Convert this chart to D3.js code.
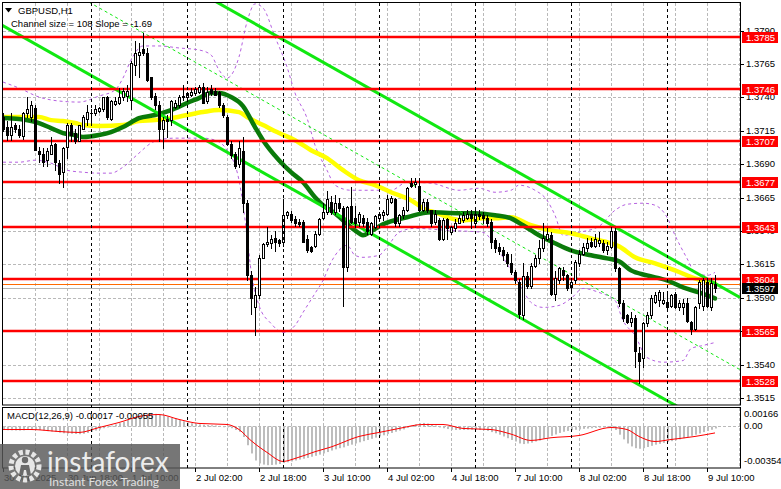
<!DOCTYPE html>
<html><head><meta charset="utf-8">
<script src="https://cdn.jsdelivr.net/npm/d3@7"></script>
<style>html,body{margin:0;padding:0;background:#fff;}svg{display:block;}</style>
</head><body>
<svg id="c" width="781" height="489"></svg>
<script>
// ---------- DATA ----------
const symbolTitle = "GBPUSD,H1";
const channelText = "Channel size = 108 Slope = -1.69";
const macdText = "MACD(12,26,9) -0.00017 -0.00055";

// hourly candles [open, high, low, close], bar 0 = 30 Jun 02:00
const ohlc = [
[1.3725,1.3728,1.3715,1.3716],[1.3718,1.3722,1.3708,1.3712],[1.3712,1.3728,1.3708,1.3718],[1.3719,1.3721,1.3714,1.3716],
[1.3716,1.3719,1.3710,1.3712],[1.3711,1.3729,1.3709,1.3728],[1.3728,1.3740,1.3725,1.3731],[1.3725,1.3737,1.3722,1.3734],
[1.3732,1.3734,1.3701,1.3701],[1.3700,1.3703,1.3692,1.3698],[1.3698,1.3702,1.3689,1.3692],[1.3693,1.3702,1.3689,1.3700],
[1.3698,1.3710,1.3698,1.3704],[1.3705,1.3706,1.3686,1.3692],[1.3691,1.3693,1.3676,1.3683],[1.3684,1.3703,1.3673,1.3702],
[1.3703,1.3721,1.3695,1.3719],[1.3719,1.3721,1.3707,1.3712],[1.3713,1.3716,1.3706,1.3707],[1.3707,1.3719,1.3707,1.3719],
[1.3716,1.3727,1.3716,1.3725],[1.3724,1.3734,1.3719,1.3729],[1.3728,1.3731,1.3720,1.3728],[1.3728,1.3734,1.3727,1.3731],
[1.3730,1.3733,1.3729,1.3732],[1.3731,1.3740,1.3730,1.3740],[1.3740,1.3741,1.3724,1.3725],[1.3724,1.3738,1.3723,1.3737],
[1.3735,1.3740,1.3734,1.3737],[1.3736,1.3747,1.3735,1.3740],[1.3740,1.3747,1.3738,1.3745],[1.3741,1.3749,1.3737,1.3745],
[1.3738,1.3767,1.3731,1.3766],[1.3764,1.3782,1.3757,1.3773],[1.3772,1.3781,1.3755,1.3774],[1.3776,1.3788,1.3772,1.3773],
[1.3773,1.3777,1.3752,1.3753],[1.3755,1.3755,1.3739,1.3740],[1.3741,1.3743,1.3731,1.3734],[1.3734,1.3737,1.3707,1.3716],
[1.3716,1.3725,1.3702,1.3723],[1.3724,1.3727,1.3710,1.3722],[1.3723,1.3738,1.3719,1.3737],[1.3733,1.3738,1.3732,1.3736],
[1.3734,1.3742,1.3733,1.3740],[1.3740,1.3749,1.3738,1.3741],[1.3740,1.3744,1.3738,1.3743],[1.3742,1.3747,1.3741,1.3744],
[1.3743,1.3748,1.3742,1.3746],[1.3744,1.3749,1.3743,1.3748],[1.3748,1.3751,1.3736,1.3736],[1.3737,1.3748,1.3736,1.3744],
[1.3746,1.3749,1.3742,1.3743],[1.3745,1.3747,1.3742,1.3742],[1.3744,1.3745,1.3733,1.3734],[1.3734,1.3736,1.3725,1.3727],
[1.3725,1.3727,1.3704,1.3705],[1.3705,1.3707,1.3695,1.3697],[1.3698,1.3699,1.3687,1.3689],[1.3690,1.3707,1.3688,1.3702],
[1.3700,1.3710,1.3654,1.3661],[1.3661,1.3663,1.3603,1.3607],[1.3607,1.3610,1.3578,1.3590],[1.3583,1.3598,1.3562,1.3592],
[1.3592,1.3622,1.3590,1.3620],[1.3620,1.3631,1.3620,1.3630],[1.3630,1.3643,1.3629,1.3632],[1.3631,1.3637,1.3627,1.3634],
[1.3635,1.3640,1.3625,1.3632],[1.3633,1.3634,1.3629,1.3631],[1.3632,1.3664,1.3629,1.3652],[1.3652,1.3655,1.3650,1.3654],
[1.3653,1.3655,1.3647,1.3648],[1.3649,1.3651,1.3644,1.3646],[1.3647,1.3649,1.3644,1.3645],[1.3647,1.3648,1.3632,1.3632],
[1.3634,1.3637,1.3624,1.3626],[1.3628,1.3629,1.3624,1.3625],[1.3629,1.3640,1.3628,1.3638],[1.3638,1.3650,1.3637,1.3649],
[1.3650,1.3661,1.3649,1.3654],[1.3654,1.3670,1.3653,1.3664],[1.3662,1.3666,1.3653,1.3654],[1.3654,1.3667,1.3653,1.3661],
[1.3661,1.3665,1.3655,1.3657],[1.3657,1.3659,1.3584,1.3613],[1.3613,1.3659,1.3610,1.3658],[1.3659,1.3673,1.3646,1.3647],
[1.3650,1.3659,1.3643,1.3646],[1.3647,1.3654,1.3644,1.3653],[1.3650,1.3652,1.3644,1.3646],[1.3647,1.3650,1.3638,1.3640],
[1.3638,1.3647,1.3637,1.3646],[1.3643,1.3652,1.3642,1.3651],[1.3650,1.3654,1.3648,1.3653],[1.3652,1.3656,1.3648,1.3654],
[1.3653,1.3667,1.3652,1.3664],[1.3662,1.3666,1.3661,1.3665],[1.3664,1.3665,1.3644,1.3646],[1.3646,1.3653,1.3644,1.3652],
[1.3652,1.3658,1.3650,1.3656],[1.3656,1.3673,1.3655,1.3672],[1.3676,1.3680,1.3673,1.3674],[1.3675,1.3680,1.3673,1.3677],
[1.3674,1.3680,1.3655,1.3656],[1.3656,1.3664,1.3655,1.3662],[1.3662,1.3664,1.3654,1.3656],[1.3656,1.3656,1.3644,1.3646],
[1.3647,1.3656,1.3645,1.3653],[1.3648,1.3650,1.3633,1.3634],[1.3634,1.3650,1.3633,1.3648],[1.3649,1.3650,1.3634,1.3642],
[1.3639,1.3644,1.3638,1.3643],[1.3642,1.3649,1.3640,1.3646],[1.3646,1.3652,1.3646,1.3650],[1.3648,1.3654,1.3647,1.3652],
[1.3650,1.3656,1.3649,1.3653],[1.3653,1.3656,1.3642,1.3650],[1.3646,1.3657,1.3644,1.3653],[1.3653,1.3656,1.3649,1.3651],
[1.3652,1.3654,1.3646,1.3650],[1.3650,1.3652,1.3644,1.3646],[1.3647,1.3649,1.3627,1.3632],[1.3633,1.3635,1.3624,1.3627],
[1.3628,1.3631,1.3623,1.3625],[1.3626,1.3628,1.3618,1.3622],[1.3623,1.3624,1.3614,1.3616],[1.3616,1.3623,1.3608,1.3609],
[1.3609,1.3611,1.3601,1.3603],[1.3602,1.3604,1.3575,1.3578],[1.3577,1.3616,1.3574,1.3606],[1.3606,1.3609,1.3597,1.3599],
[1.3599,1.3616,1.3597,1.3614],[1.3614,1.3622,1.3613,1.3620],[1.3620,1.3633,1.3616,1.3627],[1.3627,1.3646,1.3625,1.3635],
[1.3634,1.3642,1.3633,1.3638],[1.3637,1.3639,1.3592,1.3593],[1.3593,1.3610,1.3588,1.3605],[1.3603,1.3613,1.3601,1.3612],
[1.3611,1.3613,1.3603,1.3607],[1.3607,1.3608,1.3596,1.3597],[1.3598,1.3605,1.3596,1.3602],[1.3603,1.3618,1.3601,1.3617],
[1.3616,1.3626,1.3614,1.3623],[1.3623,1.3631,1.3622,1.3628],[1.3627,1.3635,1.3625,1.3631],[1.3632,1.3635,1.3628,1.3629],
[1.3629,1.3638,1.3628,1.3634],[1.3631,1.3639,1.3629,1.3633],[1.3631,1.3633,1.3624,1.3626],[1.3626,1.3632,1.3623,1.3629],
[1.3628,1.3643,1.3627,1.3640],[1.3640,1.3642,1.3610,1.3612],[1.3612,1.3613,1.3584,1.3586],[1.3586,1.3588,1.3573,1.3575],
[1.3577,1.3578,1.3571,1.3572],[1.3572,1.3579,1.3569,1.3575],[1.3575,1.3577,1.3538,1.3550],[1.3549,1.3553,1.3526,1.3543],
[1.3545,1.3572,1.3538,1.3571],[1.3571,1.3579,1.3569,1.3577],[1.3577,1.3592,1.3575,1.3590],[1.3587,1.3594,1.3586,1.3592],
[1.3588,1.3596,1.3584,1.3594],[1.3586,1.3594,1.3585,1.3588],[1.3587,1.3594,1.3582,1.3583],[1.3584,1.3593,1.3583,1.3592],
[1.3593,1.3594,1.3582,1.3583],[1.3583,1.3588,1.3581,1.3586],[1.3583,1.3589,1.3578,1.3586],[1.3586,1.3590,1.3572,1.3573],
[1.3572,1.3573,1.3563,1.3567],[1.3567,1.3584,1.3566,1.3583],[1.3586,1.3603,1.3582,1.3602],[1.3584,1.3605,1.3581,1.3603],
[1.3602,1.3605,1.3583,1.3584],[1.3583,1.3605,1.3581,1.3601],[1.3600,1.3607,1.3594,1.3597]
];

// moving averages [bar, price]
const maGreen = [[0,1.37245],[4,1.37238],[9,1.37208],[12,1.3717],[15,1.37133],[18,1.37118],[20,1.37103],[24,1.37118],[27,1.3714],[30,1.37178],[34,1.37245],[38,1.37268],[42,1.37305],[46,1.37358],[49,1.37395],[52,1.37433],[54,1.37433],[57,1.37403],[60,1.37335],[63,1.37178],[65,1.3708],[69,1.3693],[72,1.3684],[75,1.36765],[78,1.36653],[80,1.36593],[83,1.36533],[85,1.3648],[88,1.36405],[90,1.36368],[92,1.36398],[95,1.3645],[101,1.36503],[107,1.3654],[114,1.36533],[118,1.36533],[123,1.36518],[127,1.36495],[130,1.36443],[134,1.36368],[138,1.36308],[142,1.36255],[147,1.36218],[151,1.36195],[154,1.36173],[157,1.36105],[161,1.36068],[166,1.3603],[170,1.35978],[174,1.3594],[178,1.35895]];
const maYellow = [[0,1.37253],[4,1.37253],[9,1.37253],[12,1.3723],[15,1.37223],[18,1.37208],[20,1.37193],[24,1.37185],[30,1.37193],[34,1.37223],[38,1.3723],[42,1.37245],[46,1.37268],[50,1.3729],[54,1.37305],[59,1.3729],[61,1.37253],[65,1.37193],[69,1.37133],[73,1.3708],[77,1.37005],[81,1.36945],[85,1.36855],[89,1.3678],[93,1.36743],[97,1.3669],[102,1.3663],[106,1.36555],[108,1.3654],[112,1.36495],[115,1.3648],[120,1.36495],[123,1.36495],[127,1.36503],[132,1.36443],[137,1.36405],[142,1.36383],[147,1.36345],[152,1.36308],[154,1.36285],[158,1.36203],[163,1.36158],[168,1.36105],[173,1.36045],[178,1.36008]];
const bandUpper = [[0,1.37515],[4,1.3747],[9,1.37403],[14,1.37373],[19,1.37365],[24,1.3741],[28,1.37455],[30,1.37545],[32,1.3768],[35,1.37785],[39,1.37785],[44,1.3777],[49,1.37755],[52,1.37718],[54,1.37605],[56,1.37545],[59,1.37703],[61,1.37965],[63,1.381],[65,1.3807],[68,1.37853],[71,1.37628],[73,1.37433],[76,1.37245],[78,1.37043],[81,1.36855],[83,1.36743],[87,1.36705],[92,1.36705],[97,1.36705],[101,1.36765],[107,1.36758],[114,1.36705],[119,1.3672],[123,1.3669],[127,1.36705],[129,1.36743],[133,1.36705],[136,1.3663],[138,1.36518],[140,1.36368],[144,1.3639],[149,1.36435],[153,1.36555],[156,1.3660],[160,1.36608],[163,1.36593],[166,1.36503],[168,1.36368],[171,1.36195],[173,1.3609],[176,1.36068],[178,1.3609]];
const bandLower = [[0,1.36915],[4,1.36915],[8,1.3693],[12,1.36908],[16,1.36855],[20,1.3684],[24,1.36833],[27,1.36833],[30,1.36878],[34,1.36983],[37,1.37058],[40,1.37088],[43,1.37095],[50,1.37095],[53,1.3708],[56,1.37005],[59,1.3678],[61,1.36368],[62,1.36105],[64,1.35843],[67,1.35708],[70,1.3564],[73,1.35693],[75,1.3579],[78,1.35933],[80,1.3603],[82,1.36165],[84,1.36255],[86,1.36293],[88,1.36218],[90,1.36203],[94,1.36218],[96,1.36278],[99,1.3639],[103,1.3642],[111,1.36405],[120,1.3639],[123,1.36293],[127,1.36105],[130,1.35955],[132,1.35865],[135,1.35828],[139,1.35843],[142,1.35895],[145,1.3597],[149,1.3594],[153,1.3588],[155,1.3573],[158,1.35618],[161,1.35453],[165,1.35418],[170,1.3543],[172,1.3552],[175,1.35543],[177,1.35558],[178,1.35565]];

// regression channel: middle line end points [bar, price] and half width
const channelMid = [[-2,1.38510],[184.25,1.35362]];
const channelHalf = 0.0054;

// horizontal levels
const redLevels = [1.3785,1.3746,1.3707,1.3677,1.3643,1.3604,1.3565,1.3528];
const askPrice = 1.3600;
const bidPrice = 1.3597;

// axis ticks (grid levels) and the tick labels that are shown
const yTicks = [1.3790,1.3765,1.3740,1.3715,1.3690,1.3665,1.3640,1.3615,1.3590,1.3565,1.3540,1.3515];
const yTickLabels = ["1.3790","1.3765","1.3740","1.3715","1.3690","1.3665","1.3640","1.3615","1.3590","","1.3540","1.3515"];
const xTickBars = [0,16,32,48,64,80,96,112,128,144,160,176];
const xTickLabels = ["30 Jun 2025","30 Jun 18:00","1 Jul 10:00","2 Jul 02:00","2 Jul 18:00","3 Jul 10:00","4 Jul 02:00","4 Jul 18:00","7 Jul 10:00","8 Jul 02:00","8 Jul 18:00","9 Jul 10:00"];
const daySeparatorBars = [22,46,70,94,118,142,166];
const macdTickValues = [0.00166, 0, -0.00354];
const macdTickLabels = ["0.00166","0.00","-0.00354"];

// MACD histogram (units of 0.00001), one per bar
const macdHist = [-30,-32,-33,-34,-35,-33,-30,-28,-27,-30,
-35,-40,-43,-46,-52,-58,-60,
-62,-64,-66,-62,-55,-45,
-35,-25,-15,-5,
8,18,28,40,
55,68,82,95,104,110,112,108,
100,92,84,75,66,55,45,
35,28,22,18,15,12,10,8,5,2,-5,
-15,-30,-45,
-90,-160,-230,-290,-315,
-325,-330,-328,-325,-320,-312,
-305,-298,-290,-282,-275,-268,-258,-250,-240,-230,
-218,-205,-195,-185,-178,-165,-155,-145,-135,-125,
-115,-105,-95,-85,-75,-65,-55,-45,-35,-25,
-12,5,18,28,30,25,18,8,
-5,-15,-22,-28,-30,-30,-30,-28,-28,-28,-30,-32,
-38,-48,-58,-70,-85,-100,-115,-128,
-145,-150,-145,-138,-128,-120,
-105,-95,-80,-68,-55,-45,-38,
-32,-28,-25,-20,-18,-15,-12,-10,-6,-3,
8,
-30,-70,-110,-145,-170,
-185,-190,-185,-175,-165,
-155,-148,-140,-132,-125,-118,-110,-100,
-90,-80,-70,-60,-48,-38,-28,-17];
// MACD signal line [bar, value in 0.00001]
const macdSignal = [[0,-26],[7,-26],[14,-43],[19,-51],[24,-9],[29,34],[34,85],[39,102],[44,60],[49,26],[56,17],[59,-26],[62,-120],[66,-221],[70,-298],[73,-273],[78,-215],[82,-175],[89,-85],[94,-51],[99,-17],[105,17],[110,17],[115,-17],[122,-26],[127,-65],[132,-119],[137,-96],[144,-77],[152,-9],[156,-26],[159,-85],[163,-128],[167,-111],[173,-85],[178,-55]];

// ---------- DRAW ----------
const FONT = "'Liberation Sans', Arial, sans-serif";
const svg = d3.select('#c');
const x = d3.scaleLinear().domain([0,184.25]).range([3,740]);
const y = d3.scaleLinear().domain([1.3515,1.3765]).range([398,64]);
const ym = d3.scaleLinear().domain([-0.00354,0.00166]).range([468,407]);
const px = v => Math.round(x(v));

const defs = svg.append('defs');
defs.append('clipPath').attr('id','mainClip').append('rect').attr('x',3).attr('y',3).attr('width',737).attr('height',402);
defs.append('clipPath').attr('id','macdClip').append('rect').attr('x',3).attr('y',408).attr('width',737).attr('height',60);

const main = svg.append('g').attr('clip-path','url(#mainClip)');
const macd = svg.append('g').attr('clip-path','url(#macdClip)');

const gridBars = d3.range(8,185,8);
const gridColor = '#b9b9b9';
[main, macd].forEach((g,k) => {
  g.selectAll('line.vg').data(gridBars).enter().append('line').attr('class','vg')
   .attr('x1',d=>px(d)+0.5).attr('x2',d=>px(d)+0.5)
   .attr('y1',k===0?3:408).attr('y2',k===0?405:468)
   .attr('stroke',gridColor).attr('stroke-dasharray','3,2');
});
main.selectAll('line.hg').data(yTicks).enter().append('line')
  .attr('x1',3).attr('x2',740).attr('y1',d=>Math.round(y(d))+0.5).attr('y2',d=>Math.round(y(d))+0.5)
  .attr('stroke',gridColor).attr('stroke-dasharray','3,2');
macd.append('line').attr('x1',3).attr('x2',740).attr('y1',Math.round(ym(0))+0.5).attr('y2',Math.round(ym(0))+0.5)
  .attr('stroke',gridColor).attr('stroke-dasharray','3,2');

svg.selectAll('line.sep').data(daySeparatorBars).enter().append('line')
  .attr('x1',d=>px(d)+0.5).attr('x2',d=>px(d)+0.5).attr('y1',3).attr('y2',468)
  .attr('stroke','#000').attr('stroke-dasharray','3,3');

main.append('line').attr('x1',3).attr('x2',740).attr('y1',Math.round(y(askPrice))+0.5).attr('y2',Math.round(y(askPrice))+0.5).attr('stroke','#ff6a00').attr('stroke-width',1);
main.append('line').attr('x1',3).attr('x2',740).attr('y1',Math.round(y(bidPrice))+0.5).attr('y2',Math.round(y(bidPrice))+0.5).attr('stroke','#b4b4b4').attr('stroke-width',1);

const line = d3.line().x(d=>x(d[0])).y(d=>y(d[1])).curve(d3.curveMonotoneX);
[bandUpper, bandLower].forEach(b => main.append('path').attr('d',line(b)).attr('fill','none')
  .attr('stroke','#b560e0').attr('stroke-width',1).attr('stroke-dasharray','3,3'));

main.append('path').attr('d',line(maYellow)).attr('fill','none').attr('stroke','#ffff00').attr('stroke-width',4.5).attr('stroke-linecap','round');
main.append('path').attr('d',line(maGreen)).attr('fill','none').attr('stroke','#0a7a0a').attr('stroke-width',4.5).attr('stroke-linecap','round');

const straight = d3.line().x(d=>x(d[0])).y(d=>y(d[1]));
main.append('path').attr('d',straight(channelMid.map(d=>[d[0],d[1]+channelHalf]))).attr('stroke','#11e811').attr('stroke-width',3).attr('fill','none');
main.append('path').attr('d',straight(channelMid.map(d=>[d[0],d[1]-channelHalf]))).attr('stroke','#11e811').attr('stroke-width',3).attr('fill','none');
main.append('path').attr('d',straight(channelMid)).attr('stroke','#11e811').attr('stroke-width',1).attr('stroke-dasharray','3,3').attr('fill','none');

main.selectAll('line.lvl').data(redLevels).enter().append('line')
  .attr('x1',3).attr('x2',740).attr('y1',d=>Math.round(y(d))).attr('y2',d=>Math.round(y(d)))
  .attr('stroke','#ff0000').attr('stroke-width',2.5);

const cg = main.append('g');
ohlc.forEach((c,i) => {
  const [o,h,l,cl] = c; const cx = px(i);
  cg.append('line').attr('x1',cx+0.5).attr('x2',cx+0.5).attr('y1',Math.round(y(h))).attr('y2',Math.round(y(l))+1).attr('stroke','#000');
  const top = Math.round(y(Math.max(o,cl))), bot = Math.round(y(Math.min(o,cl)));
  if (bot - top < 1) {
    cg.append('line').attr('x1',cx-1).attr('x2',cx+2).attr('y1',top+0.5).attr('y2',top+0.5).attr('stroke','#000');
  } else {
    cg.append('rect').attr('x',cx-0.5).attr('y',top+0.5).attr('width',2).attr('height',bot-top)
      .attr('fill', cl>=o ? '#fff' : '#000').attr('stroke','#000').attr('stroke-width',1);
  }
});

macd.selectAll('rect.h').data(macdHist).enter().append('rect')
  .attr('x',(d,i)=>px(i)).attr('width',2)
  .attr('y',d=>Math.min(ym(d/1e5),ym(0))).attr('height',d=>Math.max(1,Math.abs(ym(d/1e5)-ym(0))))
  .attr('fill','#bdbdbd');
macd.append('path').attr('d',d3.line().x(d=>x(d[0])).y(d=>ym(d[1]/1e5)).curve(d3.curveMonotoneX)(macdSignal))
  .attr('fill','none').attr('stroke','#ff0000').attr('stroke-width',1);

svg.append('rect').attr('x',2.5).attr('y',2.5).attr('width',738).attr('height',402.5).attr('fill','none').attr('stroke','#000');
svg.append('rect').attr('x',2.5).attr('y',407.5).attr('width',738).attr('height',60.5).attr('fill','none').attr('stroke','#000');

const ax = svg.append('g').attr('font-family',FONT).attr('font-size','9.5px');
yTicks.forEach((t,k) => {
  const yy = Math.round(y(t));
  ax.append('line').attr('x1',741).attr('x2',744).attr('y1',yy+0.5).attr('y2',yy+0.5).attr('stroke','#000');
  if (yTickLabels[k]) ax.append('text').attr('x',746).attr('y',yy).attr('dy','0.36em').attr('fill','#000').text(yTickLabels[k]);
});
redLevels.forEach(p => {
  const yy = Math.round(y(p));
  ax.append('rect').attr('x',742).attr('y',yy-5).attr('width',36).attr('height',11).attr('fill','#ff0000');
  ax.append('text').attr('x',746).attr('y',yy+0.5).attr('dy','0.36em').attr('fill','#fff').text(p.toFixed(4));
});
{
  const yy = Math.round(y(bidPrice));
  ax.append('rect').attr('x',742).attr('y',yy-5).attr('width',36).attr('height',11).attr('fill','#000');
  ax.append('text').attr('x',746).attr('y',yy+0.5).attr('dy','0.36em').attr('fill','#fff').text(bidPrice.toFixed(4));
}
macdTickValues.forEach((v,k) => {
  const yy = k===0 ? 414 : (k===2 ? 461 : Math.round(ym(v)));
  ax.append('text').attr('x',744).attr('y',yy).attr('dy','0.36em').attr('fill','#000').text(macdTickLabels[k]);
});

xTickBars.forEach((b,k) => {
  ax.append('line').attr('x1',px(b)+0.5).attr('x2',px(b)+0.5).attr('y1',468).attr('y2',472).attr('stroke','#000');
  ax.append('text').attr('x',px(b)+1).attr('y',481).attr('fill','#000').text(xTickLabels[k]);
});

svg.append('path').attr('d','M5,8 L12,8 L8.5,12.5 Z').attr('fill','#000');
svg.append('text').attr('x',18).attr('y',14).attr('font-family',FONT).attr('font-size','9.5px').attr('fill','#000').text(symbolTitle);
svg.append('text').attr('x',11).attr('y',27).attr('font-family',FONT).attr('font-size','9.5px').attr('fill','#000').text(channelText);
svg.append('text').attr('x',7).attr('y',419).attr('font-family',FONT).attr('font-size','9.5px').attr('fill','#000').text(macdText);

const wm = svg.append('g');
wm.append('rect').attr('x',0).attr('y',444).attr('width',180).attr('height',45).attr('fill','rgba(88,88,88,0.82)');
wm.append('circle').attr('cx',25).attr('cy',466).attr('r',14).attr('fill','none').attr('stroke','#e6e6e6').attr('stroke-width',5).attr('stroke-dasharray','4,2.6');
wm.append('circle').attr('cx',25).attr('cy',466).attr('r',10).attr('fill','#e6e6e6');
wm.append('circle').attr('cx',25).attr('cy',460).attr('r',3.2).attr('fill','#6a6a6a');
wm.append('path').attr('d','M19,475 L21,465 L29,465 L31,475 L27,475 L26,470 L24,470 L23,475 Z').attr('fill','#6a6a6a');
wm.append('text').attr('x',47).attr('y',472).attr('font-family',"Lato, 'Open Sans', sans-serif").attr('font-size','28px').attr('fill','#ececec').text('instaforex');
wm.append('text').attr('x',49).attr('y',486).attr('font-family',"Lato, 'Open Sans', sans-serif").attr('font-size','12px').attr('fill','#e0e0e0').text('Instant Forex Trading');
</script>
</body></html>
